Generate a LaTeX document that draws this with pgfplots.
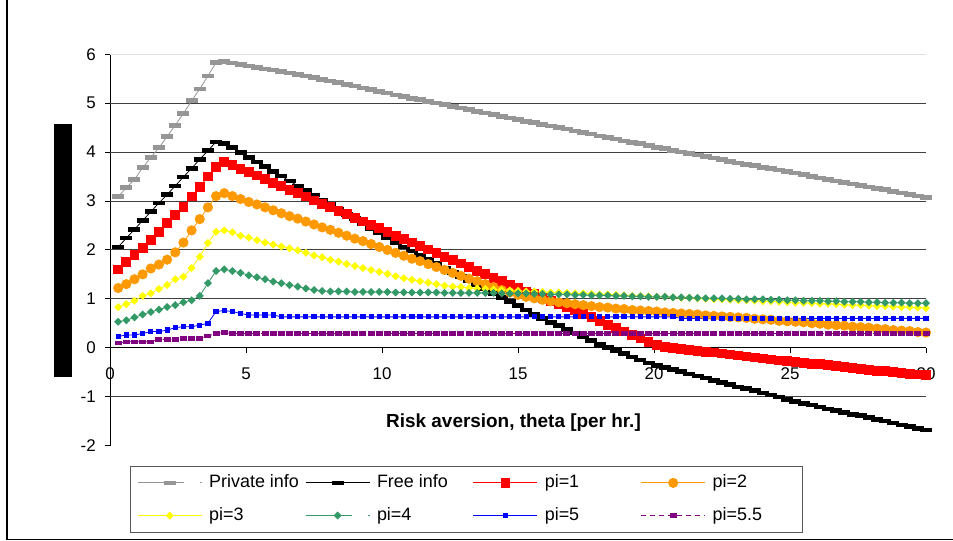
\documentclass[border=0pt]{standalone}
\usepackage{fontspec}
\setmainfont{Liberation Sans}
\usepackage{pgfplots}
\usepackage{pgfplotstable}
\pgfplotsset{compat=1.18}
\definecolor{cgray}{RGB}{150,150,150}
\definecolor{corange}{RGB}{255,153,0}
\definecolor{cyellow}{RGB}{255,255,0}
\definecolor{cgreen}{RGB}{51,153,102}
\definecolor{cpurple}{RGB}{128,0,128}
\definecolor{cred}{RGB}{255,0,0}
\definecolor{cblue}{RGB}{0,0,255}
\pgfdeclareplotmark{hbar}{\pgfpathrectangle{\pgfqpoint{-6bp}{-2.3bp}}{\pgfqpoint{12bp}{4.6bp}}\pgfusepathqfill}
\pgfdeclareplotmark{hbars}{\pgfpathrectangle{\pgfqpoint{-3.5bp}{-2.3bp}}{\pgfqpoint{7bp}{4.6bp}}\pgfusepathqfill}
\pgfdeclareplotmark{sqr}{\pgfpathrectangle{\pgfqpoint{-\pgfplotmarksize}{-\pgfplotmarksize}}{\pgfqpoint{2\pgfplotmarksize}{2\pgfplotmarksize}}\pgfusepathqfill}
\pgfdeclareplotmark{circ}{\pgfpathcircle{\pgfpointorigin}{\pgfplotmarksize}\pgfusepathqfill}
\pgfdeclareplotmark{rdiamond}{\pgfpathmoveto{\pgfqpoint{0pt}{\pgfplotmarksize}}\pgfpathlineto{\pgfqpoint{\pgfplotmarksize}{0pt}}\pgfpathlineto{\pgfqpoint{0pt}{-\pgfplotmarksize}}\pgfpathlineto{\pgfqpoint{-\pgfplotmarksize}{0pt}}\pgfpathclose\pgfusepathqfill}
\pgfplotsset{dashleg/.style={legend image code/.code={\draw[mark repeat=2,mark phase=2,##1, dash pattern=on 46bp off 16bp on 2bp off 30bp] plot coordinates {(0bp,0bp) (32bp,0bp) (64bp,0bp)};}}}
\newcommand{\lt}[1]{\makebox[88bp][l]{#1}}

\pgfplotstableread{
x priv free p1 p2 p3 p4 p5 p55
0.3 3.09 2.06 1.60 1.22 0.83 0.53 0.23 0.10
0.6 3.27 2.24 1.76 1.30 0.89 0.56 0.26 0.12
0.9 3.44 2.42 1.90 1.40 0.96 0.62 0.26 0.12
1.2 3.68 2.60 2.04 1.50 1.06 0.68 0.29 0.12
1.5 3.89 2.78 2.20 1.62 1.11 0.73 0.33 0.12
1.8 4.09 2.96 2.37 1.70 1.20 0.78 0.33 0.17
2.1 4.32 3.13 2.55 1.80 1.28 0.83 0.36 0.17
2.4 4.55 3.31 2.71 1.95 1.40 0.87 0.41 0.17
2.7 4.79 3.49 2.88 2.15 1.45 0.93 0.43 0.19
3.0 5.05 3.67 3.09 2.40 1.63 0.97 0.43 0.19
3.3 5.29 3.85 3.29 2.63 1.86 1.06 0.46 0.19
3.6 5.56 4.03 3.50 2.87 2.14 1.32 0.50 0.24
3.9 5.83 4.21 3.70 3.10 2.37 1.57 0.74 0.29
4.2 5.85 4.18 3.80 3.16 2.40 1.60 0.76 0.31
4.5 5.82 4.09 3.74 3.10 2.36 1.57 0.74 0.29
4.8 5.79 3.99 3.66 3.04 2.29 1.53 0.70 0.29
5.1 5.76 3.89 3.59 2.98 2.25 1.48 0.67 0.29
5.4 5.73 3.80 3.52 2.93 2.20 1.44 0.67 0.29
5.7 5.70 3.70 3.45 2.87 2.15 1.40 0.67 0.29
6.0 5.68 3.60 3.37 2.81 2.11 1.35 0.67 0.29
6.3 5.65 3.51 3.30 2.75 2.07 1.32 0.63 0.29
6.6 5.62 3.41 3.23 2.69 2.03 1.28 0.63 0.29
6.9 5.59 3.31 3.16 2.64 1.99 1.25 0.63 0.29
7.2 5.56 3.22 3.09 2.58 1.94 1.21 0.63 0.29
7.5 5.52 3.12 3.01 2.52 1.89 1.18 0.63 0.29
7.8 5.49 3.02 2.94 2.46 1.85 1.16 0.63 0.29
8.1 5.45 2.93 2.87 2.41 1.80 1.15 0.63 0.29
8.4 5.42 2.83 2.80 2.35 1.76 1.15 0.63 0.29
8.7 5.38 2.73 2.73 2.29 1.71 1.15 0.63 0.29
9.0 5.35 2.64 2.65 2.23 1.67 1.14 0.63 0.29
9.3 5.31 2.54 2.58 2.18 1.63 1.14 0.63 0.29
9.6 5.28 2.44 2.51 2.12 1.59 1.14 0.63 0.29
9.9 5.24 2.35 2.44 2.06 1.55 1.14 0.63 0.29
10.2 5.21 2.25 2.37 2.00 1.51 1.14 0.63 0.29
10.5 5.17 2.15 2.29 1.94 1.46 1.13 0.63 0.29
10.8 5.14 2.06 2.22 1.88 1.42 1.13 0.63 0.29
11.1 5.10 1.98 2.15 1.82 1.39 1.13 0.63 0.29
11.4 5.07 1.89 2.08 1.77 1.36 1.13 0.63 0.29
11.7 5.03 1.80 2.01 1.71 1.33 1.13 0.63 0.29
12.0 5.00 1.72 1.93 1.65 1.30 1.13 0.63 0.29
12.3 4.97 1.63 1.86 1.59 1.27 1.12 0.63 0.29
12.6 4.93 1.54 1.79 1.53 1.25 1.12 0.63 0.29
12.9 4.90 1.46 1.72 1.47 1.24 1.12 0.63 0.29
13.2 4.87 1.37 1.65 1.41 1.22 1.12 0.63 0.29
13.5 4.83 1.29 1.57 1.36 1.21 1.12 0.63 0.29
13.8 4.80 1.20 1.50 1.30 1.20 1.12 0.63 0.29
14.1 4.77 1.11 1.43 1.24 1.19 1.12 0.63 0.29
14.4 4.73 1.03 1.36 1.18 1.18 1.11 0.63 0.29
14.7 4.70 0.94 1.29 1.13 1.17 1.11 0.63 0.29
15.0 4.67 0.86 1.22 1.08 1.16 1.11 0.63 0.29
15.3 4.63 0.77 1.15 1.04 1.15 1.11 0.63 0.29
15.6 4.60 0.68 1.09 1.01 1.15 1.10 0.63 0.29
15.9 4.57 0.60 1.02 0.98 1.14 1.10 0.63 0.29
16.2 4.53 0.52 0.96 0.95 1.13 1.09 0.63 0.29
16.5 4.50 0.45 0.89 0.93 1.13 1.09 0.63 0.29
16.8 4.47 0.37 0.83 0.91 1.12 1.09 0.63 0.29
17.1 4.43 0.30 0.76 0.89 1.11 1.08 0.63 0.29
17.4 4.40 0.22 0.69 0.87 1.11 1.08 0.63 0.29
17.7 4.37 0.15 0.62 0.85 1.10 1.07 0.63 0.29
18.0 4.33 0.07 0.55 0.83 1.09 1.07 0.63 0.29
18.3 4.30 0.00 0.47 0.82 1.09 1.07 0.63 0.29
18.6 4.27 -0.06 0.40 0.80 1.08 1.06 0.63 0.29
18.9 4.23 -0.12 0.33 0.79 1.07 1.06 0.63 0.29
19.2 4.20 -0.19 0.26 0.77 1.06 1.05 0.63 0.29
19.5 4.17 -0.25 0.19 0.76 1.06 1.05 0.63 0.29
19.8 4.13 -0.31 0.12 0.75 1.05 1.04 0.63 0.29
20.1 4.10 -0.36 0.05 0.74 1.04 1.04 0.63 0.29
20.4 4.07 -0.41 0.02 0.72 1.04 1.04 0.63 0.29
20.7 4.03 -0.45 0.00 0.71 1.03 1.03 0.63 0.29
21.0 4.00 -0.49 -0.02 0.70 1.02 1.03 0.60 0.29
21.3 3.97 -0.54 -0.04 0.69 1.02 1.02 0.60 0.29
21.6 3.94 -0.58 -0.06 0.68 1.01 1.02 0.60 0.29
21.9 3.91 -0.62 -0.08 0.66 1.00 1.01 0.60 0.29
22.2 3.88 -0.67 -0.10 0.65 0.99 1.01 0.60 0.29
22.5 3.85 -0.71 -0.12 0.64 0.99 1.01 0.60 0.29
22.8 3.81 -0.75 -0.14 0.63 0.98 1.00 0.60 0.29
23.1 3.78 -0.80 -0.16 0.62 0.97 1.00 0.60 0.29
23.4 3.75 -0.84 -0.18 0.61 0.97 0.99 0.60 0.29
23.7 3.72 -0.88 -0.20 0.59 0.96 0.99 0.60 0.29
24.0 3.69 -0.93 -0.22 0.58 0.95 0.99 0.60 0.29
24.3 3.66 -0.97 -0.24 0.57 0.95 0.98 0.60 0.29
24.6 3.63 -1.01 -0.26 0.55 0.94 0.98 0.60 0.29
24.9 3.60 -1.06 -0.27 0.54 0.93 0.97 0.60 0.29
25.2 3.57 -1.10 -0.29 0.53 0.92 0.97 0.60 0.29
25.5 3.54 -1.14 -0.31 0.52 0.92 0.96 0.60 0.29
25.8 3.50 -1.17 -0.33 0.50 0.91 0.96 0.60 0.29
26.1 3.47 -1.21 -0.34 0.49 0.90 0.96 0.60 0.29
26.4 3.44 -1.25 -0.36 0.47 0.90 0.95 0.60 0.29
26.7 3.41 -1.28 -0.38 0.46 0.89 0.95 0.60 0.29
27.0 3.38 -1.32 -0.40 0.45 0.88 0.94 0.60 0.29
27.3 3.35 -1.36 -0.41 0.43 0.87 0.94 0.60 0.29
27.6 3.32 -1.39 -0.43 0.42 0.87 0.94 0.60 0.29
27.9 3.29 -1.43 -0.45 0.41 0.86 0.93 0.60 0.29
28.2 3.26 -1.47 -0.47 0.39 0.85 0.93 0.60 0.29
28.5 3.23 -1.50 -0.48 0.38 0.85 0.92 0.60 0.29
28.8 3.19 -1.54 -0.50 0.36 0.84 0.92 0.60 0.29
29.1 3.16 -1.58 -0.52 0.35 0.83 0.92 0.60 0.29
29.4 3.13 -1.61 -0.53 0.34 0.83 0.91 0.60 0.29
29.7 3.10 -1.65 -0.55 0.32 0.82 0.91 0.60 0.29
30.0 3.07 -1.68 -0.56 0.31 0.81 0.91 0.60 0.29
}\data

\begin{document}
\begin{tikzpicture}
\useasboundingbox (0bp,0bp) rectangle (953bp,541bp);
\draw[black, line width=1.2bp] (7bp,545bp) -- (7bp,1.4bp) -- (960bp,1.4bp);
\fill[black] (54bp,164bp) rectangle (72bp,417bp);
\begin{axis}[
  at={(110bp,95.5bp)}, anchor=south west, scale only axis,
  width=816bp, height=391.2bp,
  xmin=0, xmax=30, ymin=-2, ymax=6,
  axis x line=middle, axis y line=left,
  axis line style={-, black, line width=0.9bp},
  hide obscured x ticks=false, hide obscured y ticks=false,
  xtick={0,5,...,30}, xticklabels={0,5,10,15,20,25,30},
  ytick={-2,-1,...,6}, yticklabels={-2,-1,0,1,2,3,4,5,6},
  tick align=outside, major tick length=5bp,
  tick style={black, line width=0.8bp},
  ticklabel style={font=\fontsize{17}{20}\selectfont},
  xticklabel style={inner sep=0pt, anchor=north, yshift=-15bp},
  yticklabel style={inner sep=0pt, anchor=east, xshift=-9bp},
  clip=false,
  xlabel={\bfseries Risk aversion, theta [per hr.]},
  xlabel style={at={(axis description cs:0.4945,0.0575)}, anchor=center, font=\fontsize{19}{22}\selectfont},
  legend columns=4, legend cell align=left,
  legend image code/.code={\draw[mark repeat=2,mark phase=2,#1] plot coordinates {(0bp,0bp) (32bp,0bp) (64bp,0bp)};},
  legend style={at={(axis description cs:0.0249,-0.0524)}, anchor=north west,
    draw=black!65, line width=0.8bp, inner xsep=6.7bp, inner ysep=8bp,
    font=\fontsize{18}{20}\selectfont,
    nodes={inner sep=0pt, text height=13bp, text depth=4bp},
    row sep=15.7bp,
    /tikz/every odd column/.append style={column sep=7bp},
    /tikz/every even column/.append style={column sep=8bp}},
]
\draw[black!12, line width=0.8bp] (axis cs:0,6) -- (axis cs:30,6);
\draw[black!75, line width=0.8bp] (axis cs:0,5) -- (axis cs:30,5);
\draw[black!75, line width=0.8bp] (axis cs:0,4) -- (axis cs:30,4);
\draw[black!75, line width=0.8bp] (axis cs:0,3) -- (axis cs:30,3);
\draw[black!75, line width=0.8bp] (axis cs:0,2) -- (axis cs:30,2);
\draw[black!75, line width=0.8bp] (axis cs:0,1) -- (axis cs:30,1);
\draw[black!75, line width=0.8bp] (axis cs:0,-1) -- (axis cs:30,-1);

\addplot[color=cgray, line width=0.8bp, mark=hbar, mark options={solid}, dashleg]
  table[x=x,y=priv] {\data};
\addlegendentry{\lt{Private info}}
\addplot[color=black, line width=0.8bp, mark=hbar, mark options={solid}]
  table[x=x,y=free] {\data};
\addlegendentry{\lt{Free info}}
\addplot[color=cred, line width=0.8bp, mark=sqr, mark size=4.9bp, mark options={solid}]
  table[x=x,y=p1] {\data};
\addlegendentry{\lt{pi=1}}
\addplot[color=corange, line width=0.8bp, mark=circ, mark size=5.1bp, mark options={solid}]
  table[x=x,y=p2] {\data};
\addlegendentry{pi=2}
\addplot[color=cyellow, line width=0.8bp, mark=rdiamond, mark size=4bp, mark options={solid}]
  table[x=x,y=p3] {\data};
\addlegendentry{\lt{pi=3}}
\addplot[color=cgreen, line width=0.8bp, mark=rdiamond, mark size=4bp, mark options={solid}, dashleg]
  table[x=x,y=p4] {\data};
\addlegendentry{\lt{pi=4}}
\addplot[color=cblue, line width=0.8bp, mark=sqr, mark size=2.6bp, mark options={solid}]
  table[x=x,y=p5] {\data};
\addlegendentry{\lt{pi=5}}
\addplot[color=cpurple, line width=0.8bp, dash pattern=on 5bp off 4bp, mark=hbars, mark options={solid}]
  table[x=x,y=p55] {\data};
\addlegendentry{\makebox[83bp][l]{pi=5.5}}
\end{axis}
\end{tikzpicture}
\end{document}
